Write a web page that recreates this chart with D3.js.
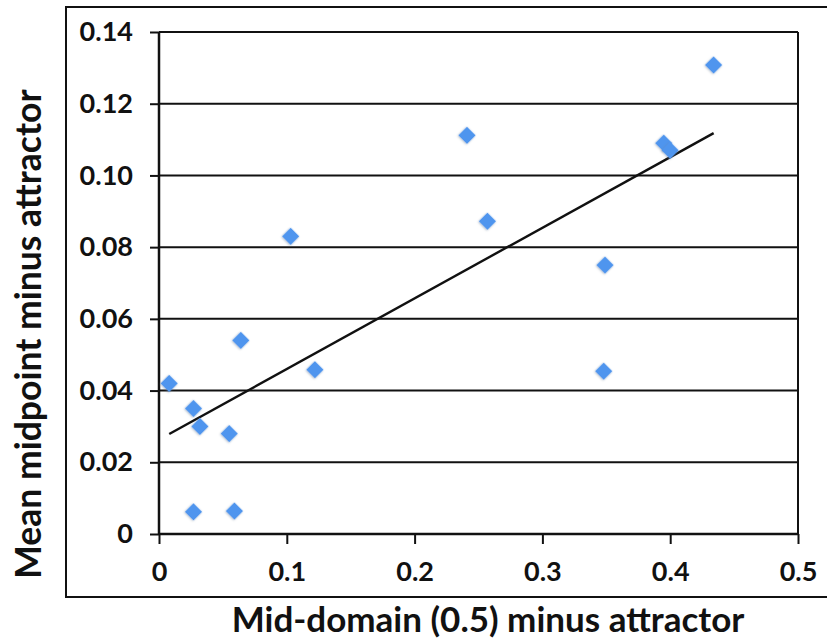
<!DOCTYPE html>
<html>
<head>
<meta charset="utf-8">
<script src="https://cdn.jsdelivr.net/npm/d3@7"></script>
<style>
  body { margin: 0; background: #fff; }
  text { font-family: Lato, "Open Sans", sans-serif; font-weight: 700; fill: #111; }
</style>
</head>
<body>
<svg id="chart" width="827" height="641"></svg>
<script>
// values
var midDomain = [0.008, 0.027, 0.032, 0.055, 0.027, 0.059, 0.064, 0.103, 0.122, 0.241, 0.257, 0.349, 0.348, 0.395, 0.400, 0.434];
var midpoint  = [0.042, 0.035, 0.030, 0.028, 0.0062, 0.0064, 0.054, 0.083, 0.0458, 0.1112, 0.0872, 0.075, 0.0454, 0.109, 0.107, 0.1308];
var trendX = [0.008, 0.434];
var trendY = [0.0279, 0.1118];
var xTicks = [0, 0.1, 0.2, 0.3, 0.4, 0.5];
var yTicks = [0, 0.02, 0.04, 0.06, 0.08, 0.10, 0.12, 0.14];
var xTickLabels = ["0", "0.1", "0.2", "0.3", "0.4", "0.5"];
var yTickLabels = ["0", "0.02", "0.04", "0.06", "0.08", "0.10", "0.12", "0.14"];
var xTitle = "Mid-domain (0.5) minus attractor";
var yTitle = "Mean midpoint minus attractor";

var margin = {top: 32, right: 29, bottom: 107, left: 159};
var width = 827 - margin.left - margin.right;
var height = 641 - margin.top - margin.bottom;

var chart = d3.select('#chart');

var defs = chart.append('defs');
var shadow = defs.append('filter').attr('id', 'shadow')
    .attr('x', '-50%').attr('y', '-50%').attr('width', '200%').attr('height', '200%');
shadow.append('feDropShadow')
    .attr('dx', 0).attr('dy', 1).attr('stdDeviation', 1)
    .attr('flood-color', '#6a7a90').attr('flood-opacity', 0.45);

// outer frame, open on the right
chart.append('path')
    .attr('d', 'M830,7H66V597H830')
    .attr('fill', 'none')
    .attr('stroke', '#111')
    .attr('stroke-width', 2);

var xs = d3.scaleLinear().domain([0, 0.5]).range([0, width]);
var ys = d3.scaleLinear().domain([0, 0.14]).range([height, 0]);

var g = chart.append('g')
    .attr('transform', 'translate(' + margin.left + ',' + margin.top + ')');

// horizontal grid lines
g.append('g')
    .selectAll('line')
    .data(yTicks.slice(1))
    .enter()
    .append('line')
        .attr('x1', 0)
        .attr('x2', width)
        .attr('y1', d => ys(d))
        .attr('y2', d => ys(d))
        .attr('stroke', '#111')
        .attr('stroke-width', 2);

// right border of the plot
g.append('line')
    .attr('x1', width).attr('x2', width)
    .attr('y1', 0).attr('y2', height)
    .attr('stroke', '#111')
    .attr('stroke-width', 2);

var yAxis = g.append('g')
    .call(d3.axisLeft(ys).tickValues(yTicks).tickSize(9).tickPadding(17)
        .tickFormat((d, i) => yTickLabels[i]));
var xAxis = g.append('g')
    .attr('transform', 'translate(0,' + height + ')')
    .call(d3.axisBottom(xs).tickValues(xTicks).tickSize(10).tickPadding(18)
        .tickFormat((d, i) => xTickLabels[i]));

[xAxis, yAxis].forEach(function(ax) {
    ax.select('.domain').attr('stroke', '#111').attr('stroke-width', 2.5);
    ax.selectAll('.tick line').attr('stroke', '#111').attr('stroke-width', 2);
    ax.selectAll('.tick text')
        .style('font-family', 'Lato, sans-serif')
        .style('font-weight', 700)
        .style('font-size', '27px')
        .attr('fill', '#111');
});
xAxis.select('.domain').attr('d', 'M0,0H' + width);
yAxis.select('.domain').attr('d', 'M0,0V' + height);

// trend line
var pts = trendX.map((x, i) => [x, trendY[i]]);
g.append('path')
    .datum(pts)
    .attr('fill', 'none')
    .attr('stroke', '#111')
    .attr('stroke-width', 2.4)
    .attr('d', d3.line().x(d => xs(d[0])).y(d => ys(d[1])));

// points
var diamond = d3.symbol().type(d3.symbolSquare).size(150);
g.append('g')
    .selectAll('path')
    .data(midDomain.map((x, i) => [x, midpoint[i]]))
    .enter()
    .append('path')
        .attr('d', diamond)
        .attr('transform', d => 'translate(' + xs(d[0]) + ',' + ys(d[1]) + ') rotate(45)')
        .attr('fill', '#4f95ee')
        .attr('filter', 'url(#shadow)');

// axis titles
chart.append('text')
    .attr('x', 488)
    .attr('y', 632)
    .style('text-anchor', 'middle')
    .style('font-size', '35px')
    .text(xTitle);

chart.append('text')
    .attr('transform', 'translate(41,334) rotate(-90)')
    .style('text-anchor', 'middle')
    .style('font-size', '35.5px')
    .text(yTitle);
</script>
</body>
</html>
